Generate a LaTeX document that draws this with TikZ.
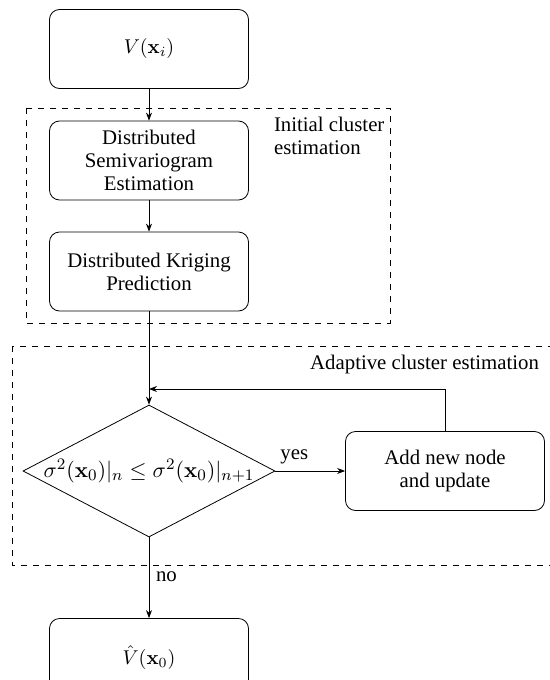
\documentclass[tikz,border=0pt]{standalone}
\usepackage[no-math]{fontspec}
\setmainfont{Liberation Serif}
\usepackage{amsmath}
\usetikzlibrary{shapes.geometric,arrows.meta}

\begin{document}
\begin{tikzpicture}[x=0.5pt, y=-0.5pt,
        font=\rmfamily\fontsize{10.4}{11.5}\selectfont,
        >={Stealth[length=4pt,width=3pt]},
        block/.style={draw, rounded corners=5pt, minimum width=99.5pt, minimum height=39.5pt, align=center, inner sep=1pt},
        decision/.style={draw, diamond, minimum width=126pt, minimum height=66pt, inner sep=0pt},
        region/.style={draw, dashed}]
        \useasboundingbox (0,0) rectangle (550,680);
        \clip (0,0) rectangle (550,680);
        % The two dashed regions.
            \draw[region] (26,108) rectangle (390,323);
            \draw[region] (12,346) rectangle (562,565);
            \node[anchor=west, align=left] (initlbl) at (267,135.5) {Initial cluster\\estimation};
            \node[anchor=east] (adaptlbl) at (546,364) {Adaptive cluster estimation};
        % Below nodes are the blocks.
            \node[block] (vin) at (149,49) {$V(\mathbf{x}_i)$};
            \node[block] (semi) at (149,160.5) {Distributed\\Semivariogram\\Estimation};
            \node[block] (krig) at (149,271.5) {Distributed Kriging\\Prediction};
            \node[decision] (check) at (149,471) {\makebox[0pt]{\fontsize{11.2}{12}\selectfont$\sigma^2(\mathbf{x}_0)|_n \leq \sigma^2(\mathbf{x}_0)|_{n+1}$}};
            \node[block] (addnode) at (445,471) {Add new node\\and update};
            \node[block] (vout) at (149,658) {$\hat{V}(\mathbf{x}_0)$};
            \coordinate (loop) at (149,389);
        % This draws the arrows.
            \draw[->] (vin) -- (semi);
            \draw[->] (semi) -- (krig);
            \draw[->] (krig) -- (check);
            \draw[->] (check) -- node[above, xshift=-8pt] {yes} (addnode);
            \draw[->] (addnode.north) |- (loop);
            \draw[->] (check) -- node[right, pos=0.49] {no} (vout);
    \end{tikzpicture}
\end{document}
